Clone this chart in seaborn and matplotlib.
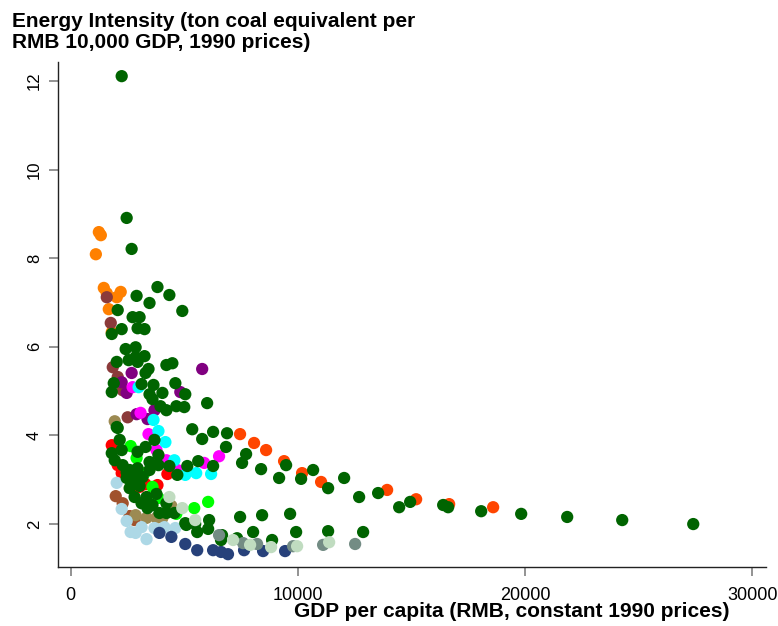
import numpy as np
import pandas as pd
import matplotlib
matplotlib.use('Agg')
import matplotlib.pyplot as plt
import seaborn as sns

# GDP per capita (RMB, 1990 prices) and energy intensity, one list pair per colour group
orange_gdp = [1238, 1325, 1106, 1456, 1587, 2025, 2200, 1675, 1806]
orange_ei = [8.59, 8.52, 8.09, 7.33, 7.21, 7.12, 7.24, 6.85, 6.33]

orangered_gdp = [7453, 8070, 8599, 9391, 10183, 11020, 13926, 15203, 16656, 18593]
orangered_ei = [4.03, 3.83, 3.67, 3.42, 3.15, 2.95, 2.77, 2.56, 2.45, 2.38]

maroon_gdp = [1587, 1762, 1850, 2068, 2287, 2506]
maroon_ei = [7.12, 6.54, 5.54, 5.32, 5.02, 4.41]

purple_gdp = [5786, 2681, 2243, 2462, 4824, 2899, 3380, 3686]
purple_ei = [5.50, 5.41, 5.20, 4.96, 4.98, 4.48, 4.37, 4.57]

magenta_gdp = [2724, 3074, 3424, 3774, 4211, 4692, 5873, 6529]
magenta_ei = [5.09, 4.51, 4.03, 3.67, 3.44, 3.22, 3.38, 3.53]

cyan_gdp = [2987, 3643, 3861, 4167, 4561, 5042, 5523, 6179]
cyan_ei = [5.09, 4.35, 4.10, 3.85, 3.44, 3.11, 3.15, 3.13]

red_gdp = [1806, 2068, 2243, 3031, 3293, 3818, 4255]
red_ei = [3.78, 3.33, 3.15, 2.84, 2.90, 2.88, 3.13]

lime_gdp = [2637, 2899, 3249, 3599, 3861, 4649, 5436, 6048]
lime_ei = [3.76, 3.49, 3.15, 2.84, 2.59, 2.23, 2.36, 2.50]

sienna_gdp = [1981, 2287, 2593, 2812]
sienna_ei = [2.63, 2.47, 2.18, 2.09]

khaki_gdp = [1937, 2856, 3337, 3774, 4036, 4430]
khaki_ei = [4.32, 2.20, 2.14, 2.14, 2.14, 2.41]

lightblue_gdp = [2025, 2243, 2462, 2637, 2856, 3118, 3337, 3686, 4124, 4605]
lightblue_ei = [2.93, 2.34, 2.07, 1.82, 1.80, 1.93, 1.66, 1.91, 1.93, 1.91]

navy_gdp = [3905, 4430, 5042, 5567, 6267, 6616, 6922, 7630, 8467, 9435]
navy_ei = [1.80, 1.71, 1.55, 1.41, 1.41, 1.37, 1.32, 1.41, 1.39, 1.39]

dkgreen_gdp = [2243, 2462, 2681, 3818, 4342, 2899, 3468, 4911, 2068, 2724,
               3031, 2943, 3249, 2243, 1806, 2418, 2856, 2025, 2549, 2856,
               3249, 2943, 3424, 3293, 4211, 4474, 4605, 5042, 6004, 3118,
               3643, 3468, 4036, 3599, 3949, 4211, 4649, 4998, 1806, 1894,
               2025, 5348, 5786, 6267, 6879, 6835, 7719, 7542, 8379, 9480,
               9172, 10140, 10669, 12034, 11329, 12694, 13530, 14456, 14940, 16393,
               16612, 18066, 19827, 21852, 24274, 27400, 7455, 8423, 9656, 9921,
               11329, 12870, 8027, 8863, 7322, 6660, 6616, 6092, 6048, 5567,
               5479, 5086, 2068, 2156, 1806, 2243, 2943, 3293, 3686, 3861,
               3468, 1937, 2287, 2593, 2943, 3468, 3861, 4342, 4692, 5130,
               5611, 6267, 2462, 2724, 2593, 2812, 3118, 3380, 3774, 4211,
               4561, 5042, 2899, 3162, 2462, 3031, 3337, 3599, 3905, 4211]
dkgreen_ei = [12.11, 8.91, 8.21, 7.35, 7.17, 7.15, 6.99, 6.81, 6.83, 6.67,
              6.67, 6.42, 6.40, 6.40, 6.29, 5.95, 5.99, 5.66, 5.70, 5.77,
              5.79, 5.66, 5.50, 5.41, 5.59, 5.63, 5.18, 4.93, 4.73, 5.16,
              5.14, 4.93, 4.96, 4.82, 4.66, 4.57, 4.66, 4.64, 4.98, 5.18,
              4.19, 4.14, 3.92, 4.08, 4.05, 3.74, 3.58, 3.38, 3.24, 3.33,
              3.04, 3.02, 3.22, 3.04, 2.81, 2.61, 2.70, 2.38, 2.50, 2.43,
              2.38, 2.29, 2.23, 2.16, 2.09, 2.00, 2.16, 2.20, 2.23, 1.82,
              1.84, 1.82, 1.82, 1.64, 1.68, 1.75, 1.64, 2.09, 1.89, 1.82,
              2.00, 1.98, 4.17, 3.90, 3.60, 3.67, 3.63, 3.74, 3.90, 3.56,
              3.40, 3.44, 3.33, 3.22, 3.26, 3.22, 3.33, 3.31, 3.11, 3.31,
              3.42, 3.31, 3.04, 2.99, 2.81, 2.61, 2.47, 2.36, 2.68, 2.47,
              2.25, 2.02, 3.17, 3.06, 3.17, 2.86, 2.61, 2.43, 2.25, 2.25]

graygreen_gdp = [6529, 7587, 8203, 9788, 11109, 12518]
graygreen_ei = [1.75, 1.57, 1.55, 1.50, 1.53, 1.55]

palegreen_gdp = [4342, 4911, 5479, 7146, 7895, 8819, 9964, 11374]
palegreen_ei = [2.61, 2.36, 2.09, 1.64, 1.53, 1.48, 1.50, 1.59]

groups = {
    'orange': (orange_gdp, orange_ei, '#ff8000'),
    'orangered': (orangered_gdp, orangered_ei, '#ff4500'),
    'maroon': (maroon_gdp, maroon_ei, '#8b3a3a'),
    'purple': (purple_gdp, purple_ei, '#800080'),
    'magenta': (magenta_gdp, magenta_ei, '#ff00ff'),
    'cyan': (cyan_gdp, cyan_ei, '#00ffff'),
    'red': (red_gdp, red_ei, '#ff0000'),
    'lime': (lime_gdp, lime_ei, '#00ff00'),
    'sienna': (sienna_gdp, sienna_ei, '#a0522d'),
    'khaki': (khaki_gdp, khaki_ei, '#9c8a52'),
    'lightblue': (lightblue_gdp, lightblue_ei, '#add8e6'),
    'navy': (navy_gdp, navy_ei, '#27417a'),
    'dkgreen': (dkgreen_gdp, dkgreen_ei, '#006400'),
    'graygreen': (graygreen_gdp, graygreen_ei, '#738c84'),
    'palegreen': (palegreen_gdp, palegreen_ei, '#c0dcc0'),
}

frames = []
for name, (gdp, ei, _) in groups.items():
    frames.append(pd.DataFrame({'gdp': gdp, 'ei': ei, 'group': name}))
df = pd.concat(frames, ignore_index=True)
palette = {name: val[2] for name, val in groups.items()}

sns.set_style('white')
plt.rcParams['font.family'] = ['Liberation Sans', 'DejaVu Sans']
plt.rcParams['text.color'] = 'black'
plt.rcParams['xtick.labelcolor'] = 'black'
plt.rcParams['ytick.labelcolor'] = 'black'

fig = plt.figure(figsize=(7.78, 6.26), dpi=100)
ax = fig.add_axes([0.0742, 0.0942, 0.9104, 0.8068])

sns.scatterplot(data=df, x='gdp', y='ei', hue='group', palette=palette,
                s=78, linewidth=0, alpha=1, legend=False, ax=ax)

ax.set_xlim(-572, 30603)
ax.set_ylim(1.03, 12.43)
ax.set_xticks([0, 10000, 20000, 30000])
ax.set_yticks([2, 4, 6, 8, 10, 12])
ax.set_xticklabels(['0', '10000', '20000', '30000'], fontsize=13)
ax.set_yticklabels(['2', '4', '6', '8', '10', '12'], rotation=90, va='center',
                   fontsize=12)

for side in ['top', 'right']:
    ax.spines[side].set_visible(False)
for side in ['left', 'bottom']:
    ax.spines[side].set_color('#222222')
    ax.spines[side].set_linewidth(1.0)
ax.tick_params(axis='both', direction='out', length=6.5, width=1.2,
               color='#808080', labelcolor='black', bottom=True, left=True)
ax.tick_params(axis='x', pad=8)
ax.tick_params(axis='y', pad=5)

ax.set_xlabel('')
ax.set_ylabel('')
fig.text(0.938, 0.0224, 'GDP per capita (RMB, constant 1990 prices)',
         ha='right', va='center', fontsize=15, fontweight='bold', color='black')
fig.text(0.016, 0.981, 'Energy Intensity (ton coal equivalent per\nRMB 10,000 GDP, 1990 prices)',
         ha='left', va='top', fontsize=15, fontweight='bold', linespacing=1.12,
         color='black')

fig.savefig('out.png', dpi=100, facecolor='white')
